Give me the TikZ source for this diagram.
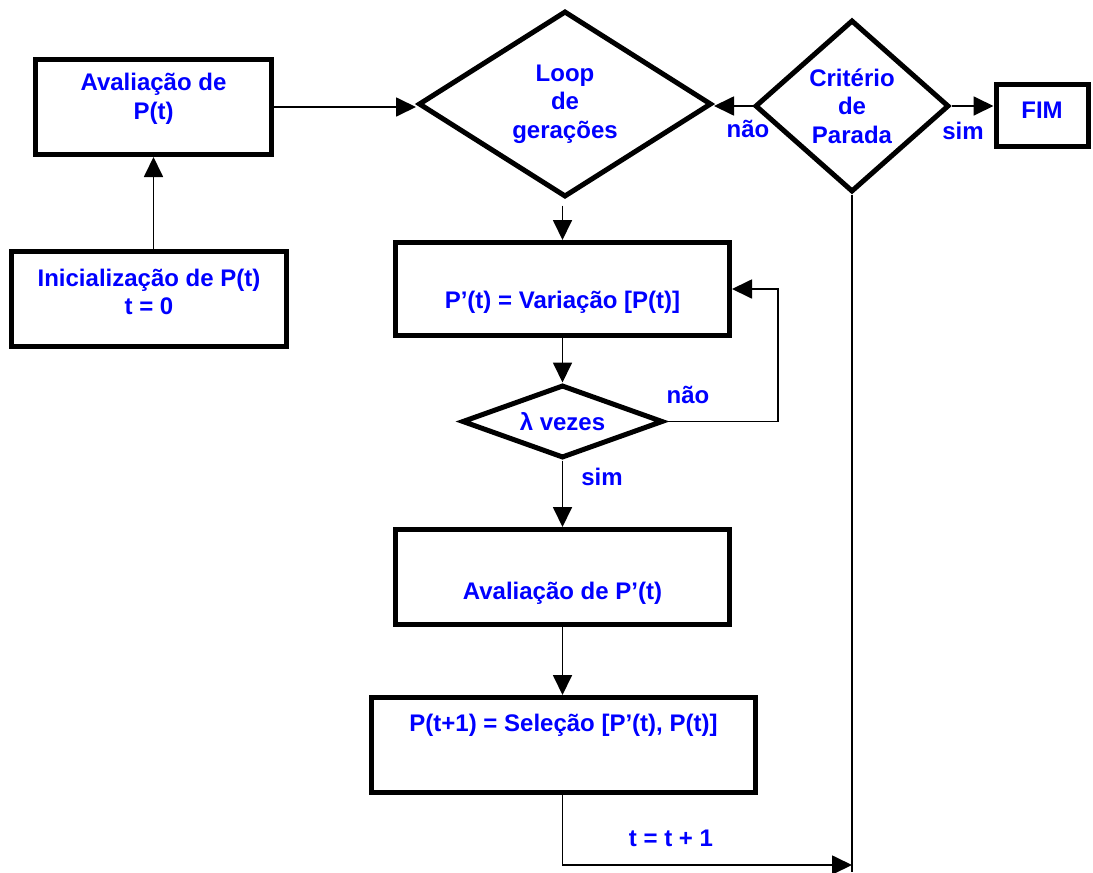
\documentclass[tikz,border=0pt]{standalone}
\usepackage{fontspec}
\setmainfont{Liberation Sans}
\usetikzlibrary{shapes.geometric,arrows.meta}
\definecolor{txtblue}{RGB}{0,0,255}
\begin{document}
\begin{tikzpicture}[x=1pt,y=-1pt,
  every node/.style={font=\bfseries\fontsize{24}{28.5}\selectfont, text=txtblue, align=center},
  box/.style={draw=black, line width=5pt, rectangle, inner sep=0pt},
  dia/.style={draw=black, line width=5pt, diamond, inner sep=0pt},
  conn/.style={draw=black, line width=1.8pt},
  arr/.style={conn, -{Triangle[length=20pt,width=19pt]}},
  lbl/.style={inner sep=0pt}
]
\useasboundingbox (0,0) rectangle (1093,873);

% boxes
\node[box, minimum width=236pt, minimum height=95pt, label={[yshift=8pt]center:Avaliação de\\P(t)}] (A) at (153.5,107) {};
\node[box, minimum width=275pt, minimum height=95pt, label={[yshift=7pt]center:Inicialização de P(t)\\t = 0}] (B) at (149,299) {};
\node[box, minimum width=334pt, minimum height=93pt, label={[yshift=-13pt]center:P’(t) = Variação [P(t)]}] (C) at (562.5,289) {};
\node[box, minimum width=334pt, minimum height=95pt, label={[yshift=-16pt]center:Avaliação de P’(t)}] (D) at (562.5,577) {};
\node[box, minimum width=384pt, minimum height=95pt, label={[yshift=20pt]center:P(t+1) = Seleção [P’(t), P(t)]}] (E) at (563.5,745) {};
\node[box, minimum width=92pt, minimum height=62pt, label={[yshift=5pt]center:FIM}] (F) at (1042,115.5) {};

% decisions
\node[dia, shape aspect=1.58, minimum width=293pt, minimum height=186pt] (L) at (565,104) {Loop\\de\\gerações};
\node[dia, shape aspect=1.13, minimum width=194pt, minimum height=172pt] (K) at (852,106) {Critério\\de\\Parada};
\node[dia, shape aspect=2.75, minimum width=201pt, minimum height=73pt] (V) at (562.5,421.5) {λ vezes};

% connectors
\draw[arr] (A.south |- B.north) -- (A.south);
\draw[arr] (A.east) -- (A.east -| L.west);
\draw[arr] (K.west) -- (K.west -| L.east);
\draw[arr] (K.east) -- (K.east -| F.west);
\draw[arr, shorten <=6pt] (C.north |- L.south) -- (C.north);
\draw[arr] (C.south) -- (V.north);
\coordinate (nr) at (778,289);
\draw[arr] (V.east) -| (nr) -- (C.east);
\draw[arr] (V.south) -- (D.north);
\draw[arr] (D.south) -- (D.south |- E.north);
\coordinate (tt) at (852,865);
\draw[arr] (D.south |- E.south) |- (tt);
\coordinate (bot) at (852,872);
\draw[conn] (K.south) -- (bot);

% labels
\node[lbl] (n1) at (748,129) {não};
\node[lbl] (s1) at (963,131) {sim};
\node[lbl] (n2) at (688,395) {não};
\node[lbl] (s2) at (602,477) {sim};
\node[lbl] (t1) at (671,838) {t = t + 1};
\end{tikzpicture}
\end{document}
